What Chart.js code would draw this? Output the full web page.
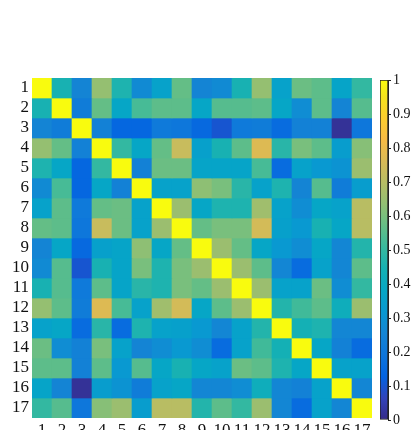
<!DOCTYPE html>
<html>
<head>
<meta charset="utf-8">
<script src="https://cdn.jsdelivr.net/npm/chart.js@4"></script>
<style>
  body { margin: 0; background: #fff; overflow: hidden; }
  #heat { position: absolute; left: 0; top: 0; }
  #cbar { position: absolute; left: 360px; top: 0; }
</style>
</head>
<body>
<canvas id="heat" width="380" height="450"></canvas>
<canvas id="cbar" width="58" height="440"></canvas>
<script>
// row / column labels
var rowLabels = ['1','2','3','4','5','6','7','8','9','10','11','12','13','14','15','16','17'];
var colLabels = ['1','2','3','4','5','6','7','8','9','10','11','12','13','14','15','16','17'];

// correlation values, one array per row
var row1  = [1.00, .45, .25, .64, .46, .27, .36, .57, .25, .27, .45, .64, .36, .58, .56, .37, .50];
var row2  = [.45, 1.00, .22, .57, .38, .53, .56, .56, .38, .55, .55, .56, .38, .28, .56, .25, .55];
var row3  = [.25, .22, 1.00, .24, .14, .14, .21, .20, .15, .10, .21, .22, .16, .24, .24, .02, .20];
var row4  = [.64, .57, .24, 1.00, .50, .38, .57, .73, .35, .45, .56, .77, .48, .60, .56, .34, .62];
var row5  = [.46, .38, .14, .50, 1.00, .24, .58, .58, .37, .37, .37, .53, .16, .36, .32, .30, .65];
var row6  = [.27, .53, .14, .38, .24, 1.00, .36, .36, .63, .60, .48, .36, .46, .25, .55, .22, .34];
var row7  = [.36, .56, .21, .57, .58, .36, 1.00, .65, .38, .46, .46, .66, .36, .28, .38, .36, .70];
var row8  = [.57, .56, .20, .73, .58, .36, .65, 1.00, .57, .60, .60, .75, .35, .32, .45, .38, .70];
var row9  = [.25, .38, .15, .35, .37, .63, .38, .57, 1.00, .65, .57, .38, .32, .28, .38, .26, .47];
var row10 = [.27, .55, .10, .45, .37, .60, .46, .60, .65, 1.00, .65, .56, .26, .16, .36, .26, .56];
var row11 = [.45, .55, .21, .56, .37, .48, .46, .60, .57, .65, 1.00, .65, .36, .36, .58, .28, .50];
var row12 = [.64, .56, .22, .77, .53, .36, .66, .75, .38, .56, .65, 1.00, .47, .52, .56, .42, .65];
var row13 = [.36, .38, .16, .48, .16, .46, .36, .35, .32, .26, .36, .47, 1.00, .44, .46, .26, .26];
var row14 = [.58, .28, .24, .60, .36, .25, .28, .32, .28, .16, .36, .52, .44, 1.00, .38, .24, .16];
var row15 = [.56, .56, .24, .56, .32, .55, .38, .45, .38, .36, .58, .56, .46, .38, 1.00, .36, .36];
var row16 = [.37, .25, .02, .34, .30, .22, .36, .38, .26, .26, .28, .42, .26, .24, .36, 1.00, .26];
var row17 = [.50, .55, .20, .62, .65, .34, .70, .70, .47, .56, .50, .65, .26, .16, .36, .26, 1.00];
var rows = [row1, row2, row3, row4, row5, row6, row7, row8, row9, row10,
            row11, row12, row13, row14, row15, row16, row17];

// colour bar range and ticks
var cbMin = 0;
var cbMax = 1;
var cbStep = 0.1;

// parula colormap (sampled), position -> rgb 0..1
var parula = [
  [0/63, 0.2081, 0.1663, 0.5292],
  [4/63, 0.1959, 0.2645, 0.7279],
  [8/63, 0.0117, 0.3875, 0.8820],
  [12/63, 0.0498, 0.4586, 0.8641],
  [16/63, 0.0793, 0.5200, 0.8312],
  [20/63, 0.0343, 0.5966, 0.8199],
  [24/63, 0.0228, 0.6535, 0.7768],
  [28/63, 0.0843, 0.6928, 0.7062],
  [32/63, 0.2178, 0.7250, 0.6193],
  [36/63, 0.3953, 0.7459, 0.5244],
  [40/63, 0.5709, 0.7485, 0.4494],
  [44/63, 0.7184, 0.7411, 0.3905],
  [48/63, 0.8507, 0.7299, 0.3360],
  [52/63, 0.9739, 0.7314, 0.2666],
  [56/63, 0.9880, 0.8066, 0.1794],
  [60/63, 0.9589, 0.8949, 0.1132],
  [63/63, 0.9763, 0.9831, 0.0538]
];

function parulaColor(v) {
  var t = (v - cbMin) / (cbMax - cbMin);
  t = Math.max(0, Math.min(1, t));
  for (var i = 1; i < parula.length; i++) {
    if (t <= parula[i][0]) {
      var a = parula[i - 1], b = parula[i];
      var f = (t - a[0]) / (b[0] - a[0]);
      var r = Math.round(255 * (a[1] + f * (b[1] - a[1])));
      var g = Math.round(255 * (a[2] + f * (b[2] - a[2])));
      var bl = Math.round(255 * (a[3] + f * (b[3] - a[3])));
      return 'rgb(' + r + ',' + g + ',' + bl + ')';
    }
  }
  return 'rgb(249,251,14)';
}

var serif = '"Liberation Serif", "Times New Roman", serif';

// each row is one stacked dataset, every cell one unit tall
var datasets = rows.map(function(r, i) {
  return {
    label: rowLabels[i],
    data: r.map(function() { return 1; }),
    backgroundColor: r.map(parulaColor),
    borderWidth: 0,
    barPercentage: 1,
    categoryPercentage: 1
  };
});

new Chart(document.getElementById('heat').getContext('2d'), {
  type: 'bar',
  data: { labels: colLabels, datasets: datasets },
  options: {
    responsive: false,
    animation: false,
    layout: { padding: { top: 78, right: 8, bottom: 0, left: 0 } },
    plugins: { legend: { display: false }, tooltip: { enabled: false } },
    scales: {
      x: {
        stacked: true,
        grid: { display: false, drawTicks: false },
        border: { display: false },
        ticks: { font: { family: serif, size: 17 }, color: '#111', padding: 2, maxRotation: 0, autoSkip: false },
        afterFit: function(s) { s.height = 32; }
      },
      y: {
        stacked: true,
        min: 0,
        max: rowLabels.length,
        reverse: true,
        grid: { display: false, drawTicks: false },
        border: { display: false },
        afterBuildTicks: function(s) {
          s.ticks = rowLabels.map(function(l, i) { return { value: i + 0.5 }; });
        },
        ticks: {
          font: { family: serif, size: 17 },
          color: '#111',
          padding: 3,
          autoSkip: false,
          callback: function(v) { return rowLabels[Math.floor(v)]; }
        },
        afterFit: function(s) { s.width = 32; }
      }
    }
  }
});

// colour bar
new Chart(document.getElementById('cbar').getContext('2d'), {
  type: 'bar',
  data: {
    labels: [''],
    datasets: [{
      data: [cbMax],
      borderWidth: 1,
      borderColor: '#222',
      borderSkipped: false,
      barPercentage: 1,
      categoryPercentage: 1,
      backgroundColor: function(c) {
        var ca = c.chart.chartArea;
        if (!ca) return '#fff';
        var g = c.chart.ctx.createLinearGradient(0, ca.bottom, 0, ca.top);
        parula.forEach(function(p) {
          g.addColorStop(p[0], 'rgb(' + Math.round(p[1] * 255) + ',' + Math.round(p[2] * 255) + ',' + Math.round(p[3] * 255) + ')');
        });
        return g;
      }
    }]
  },
  options: {
    responsive: false,
    animation: false,
    layout: { padding: { top: 80, right: 0, bottom: 20, left: 20 } },
    plugins: { legend: { display: false }, tooltip: { enabled: false } },
    scales: {
      x: { display: false },
      y: {
        position: 'right',
        min: cbMin,
        max: cbMax,
        grid: { drawOnChartArea: false, tickLength: 3, color: '#222' },
        border: { display: true, color: '#222' },
        ticks: {
          stepSize: cbStep,
          autoSkip: false,
          font: { family: serif, size: 14 },
          color: '#111',
          padding: 2,
          callback: function(v) { return String(+v.toFixed(1)); }
        },
        afterFit: function(s) { s.width = 30; }
      }
    }
  }
});
</script>
</body>
</html>
